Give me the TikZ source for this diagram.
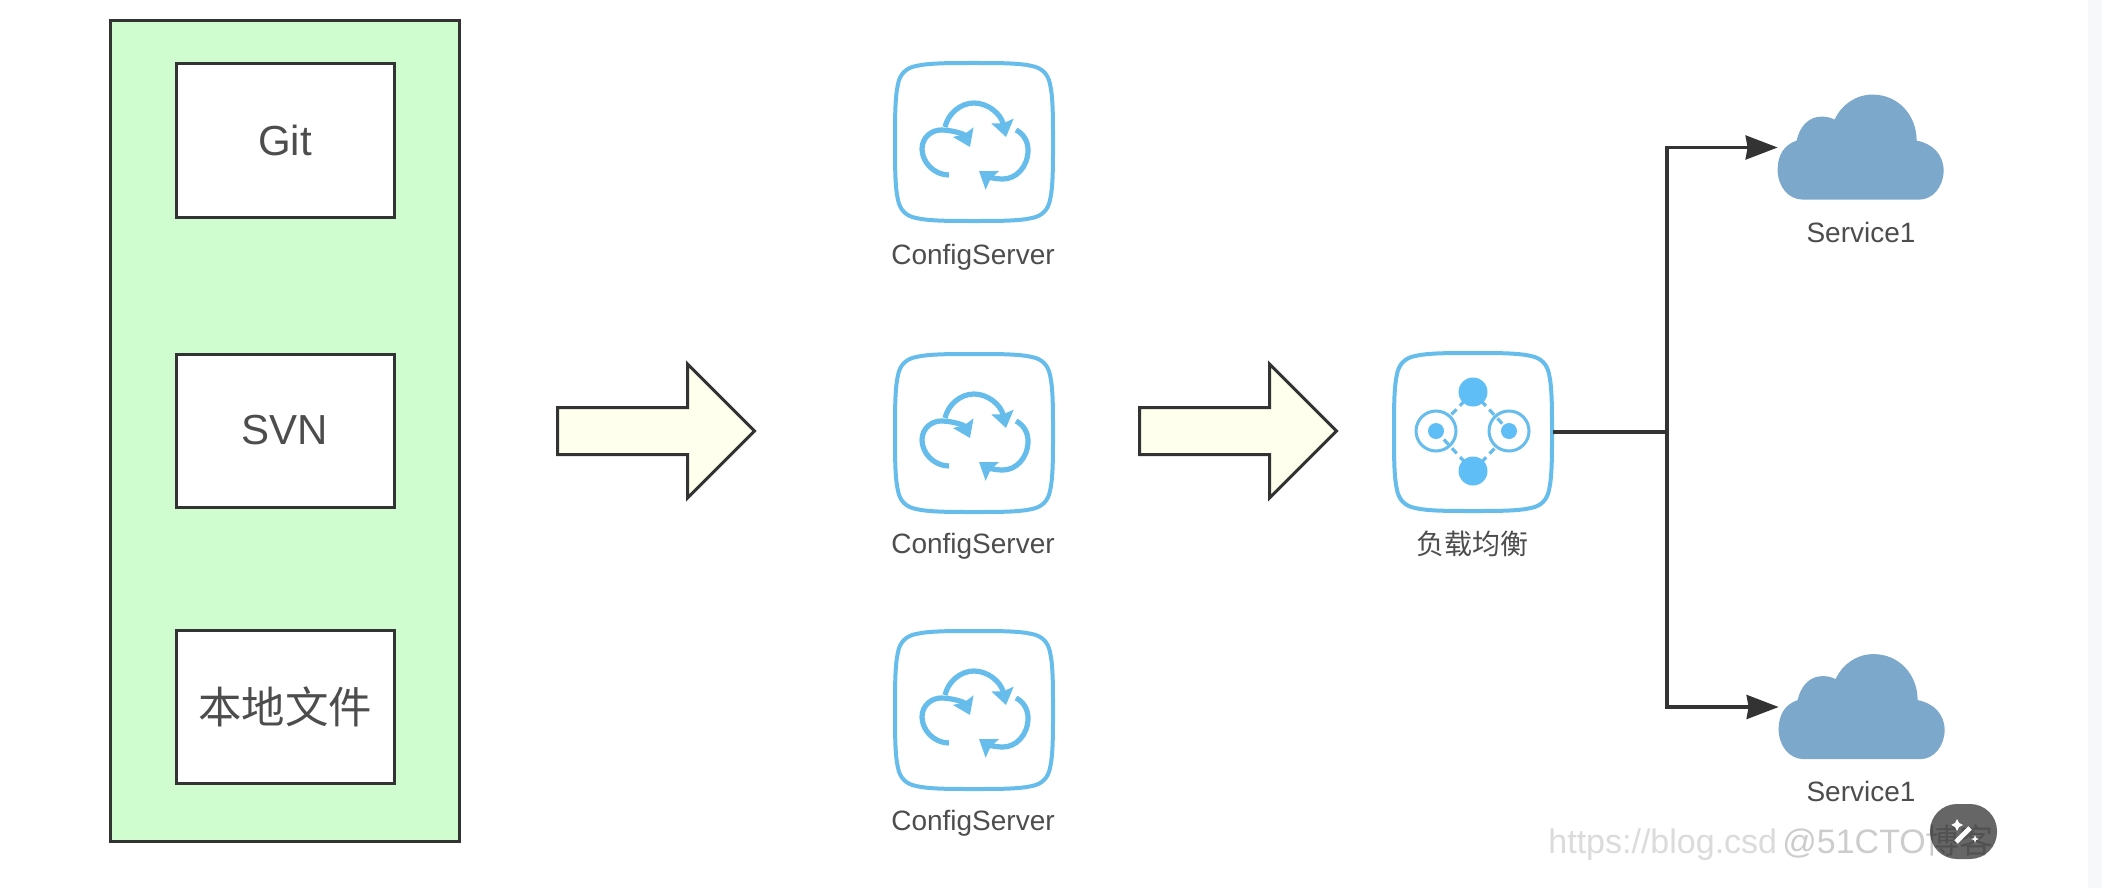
\documentclass[tikz,border=0pt]{standalone}
\usepackage{xcolor}
\usepackage{fontspec}
\setmainfont{Liberation Sans}
\newfontfamily\cjk{Noto Sans CJK SC}
\usetikzlibrary{shapes,arrows.meta,positioning}

\definecolor{linegray}{HTML}{333333}
\definecolor{textgray}{HTML}{4D4D4D}
\definecolor{groupgreen}{HTML}{D0FDD0}
\definecolor{arrowcream}{HTML}{FFFFEE}
\definecolor{iconblue}{HTML}{66BDEB}
\definecolor{dotblue}{HTML}{5FBEF5}
\definecolor{cloudblue}{HTML}{7BA8CB}
\definecolor{bandgray}{HTML}{F7F8FA}

% Rounded icon frame and the two icons
\newcommand{\iconframe}{%
    \draw[iconblue, line width=2pt] (0,-79) .. controls (25,-79) and (45,-79) .. (58,-76)
        .. controls (68,-74) and (74,-68) .. (76,-58) .. controls (79,-45) and (79,-25) .. (79,0)
        .. controls (79,25) and (79,45) .. (76,58) .. controls (74,68) and (68,74) .. (58,76)
        .. controls (45,79) and (25,79) .. (0,79) .. controls (-25,79) and (-45,79) .. (-58,76)
        .. controls (-68,74) and (-74,68) .. (-76,58) .. controls (-79,45) and (-79,25) .. (-79,0)
        .. controls (-79,-25) and (-79,-45) .. (-76,-58) .. controls (-74,-68) and (-68,-74) .. (-58,-76)
        .. controls (-45,-79) and (-25,-79) .. (0,-79) -- cycle;}
\tikzset{
    cfgicon/.pic={
        \iconframe
        \draw[iconblue, line width=2.6pt, -{Stealth[length=8pt,width=11pt,inset=1pt]}]
            (-25,33) .. controls (-40,33) and (-52,20) .. (-52,7) .. controls (-52,-5) and (-42,-12) .. (-33,-12)
            .. controls (-22,-12) and (-10,-8) .. (-4,5);
        \draw[iconblue, line width=2.6pt, -{Stealth[length=8pt,width=11pt,inset=1pt]}]
            (-29,-15) .. controls (-26,-28) and (-14,-39) .. (0,-39) .. controls (14,-39) and (27,-28) .. (32,-5);
        \draw[iconblue, line width=2.6pt, -{Stealth[length=8pt,width=11pt,inset=1pt]}]
            (42,-12) .. controls (50,-8) and (54,0) .. (54,8) .. controls (54,25) and (42,37) .. (29,37)
            .. controls (20,37) and (12,34) .. (5,29);
    },
    lbicon/.pic={
        \iconframe
        % Dashed links
        \draw[iconblue, line width=1.6pt, dash pattern=on 3.5pt off 2.5pt] (0,-40) -- (36,-1);
        \draw[iconblue, line width=1.6pt, dash pattern=on 3.5pt off 2.5pt] (0,39) -- (-37,-1);
        \draw[iconblue, line width=1.6pt, dash pattern=on 3.5pt off 2.5pt] (0,-40) -- (-22,-17);
        \draw[iconblue, line width=1.6pt, dash pattern=on 3.5pt off 2.5pt] (0,39) -- (22,16);
        % Rings and dots
        \draw[iconblue, line width=1.5pt] (-37,-1) circle [radius=20];
        \draw[iconblue, line width=1.5pt] (36,-1) circle [radius=20];
        \fill[dotblue] (-37,-1) circle [radius=8];
        \fill[dotblue] (36,-1) circle [radius=8];
        \fill[dotblue] (0,-40) circle [radius=14.5];
        \fill[dotblue] (0,39) circle [radius=14.5];
    },
    cloudicon/.pic={
        \fill[cloudblue] (25,105) .. controls (11,105) and (0,92) .. (0,75) .. controls (0,60) and (7,50) .. (19,46)
            .. controls (22,32) and (31,22) .. (44,22) .. controls (49,22) and (53,23) .. (57,25)
            .. controls (64,10) and (78,0) .. (95,0) .. controls (120,0) and (139,20) .. (139,46)
            .. controls (155,49) and (166,60) .. (166,76) .. controls (166,92) and (155,105) .. (142,105) -- cycle;
    }
}

\begin{document}
\begin{tikzpicture}[x=0.5pt, y=-0.5pt]
    % Styles
    \tikzstyle{group} = [draw=linegray, fill=groupgreen, line width=1.5pt, minimum width=174.5pt, minimum height=410pt, inner sep=0pt]
    \tikzstyle{source} = [draw=linegray, fill=white, line width=1.5pt, minimum width=109pt, minimum height=76.5pt, inner sep=0pt, text=textgray, font=\fontsize{21}{25}\selectfont]
    \tikzstyle{bigarrow} = [draw=linegray, fill=arrowcream, line width=1.5pt, single arrow, single arrow head extend=21.75pt, minimum height=98.5pt, minimum width=66pt, inner xsep=0pt, inner ysep=11pt, anchor=tail]
    \tikzstyle{iconbox} = [minimum size=80pt, inner sep=0pt]
    \tikzstyle{cloudbox} = [minimum width=83pt, minimum height=52.5pt, inner sep=0pt]
    \tikzstyle{caption} = [text=textgray, font=\fontsize{14}{17}\selectfont, inner sep=0pt]
    \tikzstyle{link} = [draw=linegray, line width=1.6pt]

    \useasboundingbox (0,0) rectangle (2102,888);
    \fill[white] (0,0) rectangle (2102,888);
    \fill[bandgray] (2088,0) rectangle (2102,888);

    % Green group with the three sources
    \node[group] (store) at (284.5,431) {};
    \node[source] (git) at (285,140.5) {Git};
    \node[source] (svn) at (285,430.5) {SVN};
    \node[source, font=\fontsize{21.7}{25}\selectfont] (local) at (285,706.5) {\cjk 本地文件};

    % Block arrows
    \node[bigarrow] (arrowa) at (556,431) {};
    \node[bigarrow] (arrowb) at (1138,431) {};

    % Config servers
    \node[iconbox] (cfga) at (974,142) {};
    \node[iconbox] (cfgb) at (974,433) {};
    \node[iconbox] (cfgc) at (974,710) {};
    \pic at (cfga) {cfgicon};
    \pic at (cfgb) {cfgicon};
    \pic at (cfgc) {cfgicon};
    \node[caption, anchor=base] (cfgalabel) at (973,264) {ConfigServer};
    \node[caption, anchor=base] (cfgblabel) at (973,553) {ConfigServer};
    \node[caption, anchor=base] (cfgclabel) at (973,830) {ConfigServer};

    % Load balancer
    \node[iconbox] (lb) at (1473,432) {};
    \pic at (lb) {lbicon};
    \node[caption] (lblabel) at (1472,544) {\cjk 负载均衡};

    % Services
    \node[cloudbox] (svca) at (1861,147.5) {};
    \node[cloudbox] (svcb) at (1862,707) {};
    \pic at (svca.north west) {cloudicon};
    \pic at (svcb.north west) {cloudicon};
    \node[caption, anchor=base] (svcalabel) at (1861,242) {Service1};
    \node[caption, anchor=base] (svcblabel) at (1861,801) {Service1};

    % Connectors
    \coordinate (fork) at (1667,432);
    \draw[link] (lb.east) -- (fork);
    \draw[link, -{Stealth[length=16pt,width=12pt,inset=1pt]}] (fork) |- (svca.west);
    \draw[link, -{Stealth[length=16pt,width=12pt,inset=1pt]}] (fork) |- (svcb.west);

    % Watermarks and the button under them
    \node[anchor=base west, inner sep=0pt, text=black!14, font=\fontsize{17}{20}\selectfont] (csdn) at (1548,853) {https://blog.csd};
    \node[fill=black!60, rounded corners=13.5pt, minimum width=33.5pt, minimum height=27.5pt, inner sep=0pt] (wand) at (1963.5,831.5) {};
    \node[anchor=base west, inner sep=0pt, text=black, text opacity=0.2, font=\fontsize{17}{20}\selectfont] (cto) at (1782,853) {@51CTO\cjk 博客};
    \draw[white, line width=2.4pt] (1956,842) -- (1970,828);
    \fill[white] (1957,819) -- (1959,823) -- (1963,825) -- (1959,827) -- (1957,831) -- (1955,827) -- (1951,825) -- (1955,823) -- cycle;
    \fill[white] (1975,835) -- (1976,838) -- (1979,839) -- (1976,840) -- (1975,843) -- (1974,840) -- (1971,839) -- (1974,838) -- cycle;
\end{tikzpicture}
\end{document}
